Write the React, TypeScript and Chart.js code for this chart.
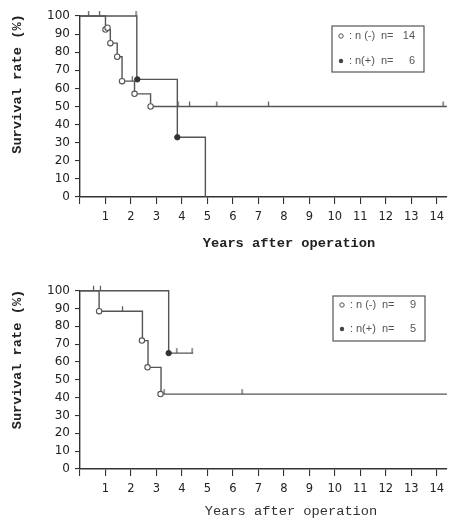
import React, { useEffect, useRef } from "react";
import { Chart, registerables } from "chart.js";
Chart.register(...registerables);

// ---------- Data: top panel ----------
const topNegTimes = [0, 1.0, 1.19, 1.46, 1.65, 2.14, 2.77, 14.4];
const topNegSurv = [100, 92.5, 85, 77.5, 64, 57, 50, 50];
const topNegEventTimes = [1.0, 1.08, 1.19, 1.46, 1.65, 2.14, 2.77];
const topNegEventSurv = [92.5, 93.5, 85, 77.5, 64, 57, 50];
const topNegCensorTimes = [2.05, 3.85, 4.3, 5.37, 7.4, 14.25];
const topNegCensorSurv = [64, 50, 50, 50, 50, 50];

const topPosTimes = [0, 2.23, 3.82, 4.92];
const topPosSurv = [100, 65, 33, 0];
const topPosEventTimes = [2.25, 3.82];
const topPosEventSurv = [65, 33];
const topPosCensorTimes = [0.34, 0.77, 2.2];
const topPosCensorSurv = [100, 100, 100];

// ---------- Data: bottom panel ----------
const botNegTimes = [0, 0.75, 2.45, 2.67, 3.18, 14.4];
const botNegSurv = [100, 88.5, 72, 57, 42, 42];
const botNegEventTimes = [0.75, 2.43, 2.65, 3.16];
const botNegEventSurv = [88.5, 72, 57, 42];
const botNegCensorTimes = [1.67, 3.3, 6.36];
const botNegCensorSurv = [88.5, 42, 42];

const botPosTimes = [0, 3.48, 4.44];
const botPosSurv = [100, 65, 65];
const botPosEventTimes = [3.48];
const botPosEventSurv = [65];
const botPosCensorTimes = [0.53, 0.8, 3.8, 4.4];
const botPosCensorSurv = [100, 100, 65, 65];

// ---------- Labels ----------
const xTickLabels = ["", "1", "2", "3", "4", "5", "6", "7", "8", "9", "10", "11", "12", "13", "14"];
const yTickLabels = ["0", "10", "20", "30", "40", "50", "60", "70", "80", "90", "100"];
const yTitle = "Survival rate (%)";
const xTitle = "Years after operation";
const topLegendLabels = ["n (-)", "n(+)"];
const topLegendCounts = ["14", "6"];
const botLegendLabels = ["n (-)", "n(+)"];
const botLegendCounts = ["9", "5"];

const LINE = "#555";
const AXIS = "#333";

function pts(xs: number[], ys: number[]) {
  return xs.map((x, i) => ({ x, y: ys[i] }));
}

function makeTick(): HTMLCanvasElement {
  const c = document.createElement("canvas");
  c.width = 3;
  c.height = 12;
  const g = c.getContext("2d")!;
  g.strokeStyle = LINE;
  g.lineWidth = 1.2;
  g.beginPath();
  g.moveTo(1.5, 1);
  g.lineTo(1.5, 6);
  g.stroke();
  return c;
}

const decorPlugin = {
  id: "decor",
  afterDraw(chart: any, _args: any, opts: any) {
    const ctx = chart.ctx as CanvasRenderingContext2D;
    ctx.save();
    ctx.fillStyle = "#222";
    ctx.font = 'bold 13.7px "Liberation Mono"';
    ctx.textAlign = "center";
    ctx.textBaseline = "middle";
    ctx.save();
    ctx.translate(opts.yTitleX, opts.yTitleY);
    ctx.rotate(-Math.PI / 2);
    ctx.fillText(yTitle, 0, 0);
    ctx.restore();
    ctx.font = opts.xTitleFont;
    ctx.fillStyle = opts.xTitleColor;
    ctx.fillText(xTitle, opts.xTitleX, opts.xTitleY);

    // legend box
    const L = opts.boxLeft, T = opts.boxTop, R = opts.boxRight, B = opts.boxBottom;
    ctx.strokeStyle = "#555";
    ctx.lineWidth = 1.2;
    ctx.strokeRect(L, T, R - L, B - T);
    ctx.font = '11px "Liberation Sans"';
    ctx.textBaseline = "middle";
    const rows = [opts.row1, opts.row2];
    for (let i = 0; i < 2; i++) {
      const y = rows[i];
      ctx.beginPath();
      ctx.arc(L + 9, y, 2.2, 0, Math.PI * 2);
      if (i === 0) {
        ctx.fillStyle = "#fff";
        ctx.fill();
        ctx.strokeStyle = "#555";
        ctx.lineWidth = 1;
        ctx.stroke();
      } else {
        ctx.fillStyle = "#444";
        ctx.fill();
      }
      ctx.fillStyle = "#555";
      ctx.textAlign = "left";
      ctx.fillText(":", L + 17, y);
      ctx.fillText(opts.labels[i], L + 23, y);
      ctx.fillText("n=", L + 49, y);
      ctx.textAlign = "right";
      ctx.fillText(opts.counts[i], R - 9, y);
    }
    ctx.restore();
  },
};

type Panel = {
  negT: number[]; negS: number[]; negET: number[]; negES: number[]; negCT: number[]; negCS: number[];
  posT: number[]; posS: number[]; posET: number[]; posES: number[]; posCT: number[]; posCS: number[];
  padTop: number; xHeight: number; decor: any;
};

function makeConfig(p: Panel, tick: HTMLCanvasElement): any {
  const common = { clip: false as any, showLine: false };
  return {
    type: "line",
    data: {
      datasets: [
        { ...common, data: pts(p.negCT, p.negCS), pointStyle: tick, pointRadius: 4, borderColor: LINE },
        { ...common, data: pts(p.posCT, p.posCS), pointStyle: tick, pointRadius: 4, borderColor: LINE },
        { ...common, data: pts(p.negET, p.negES), pointStyle: "circle", pointRadius: 2.7, pointBorderWidth: 1.1, pointBorderColor: LINE, pointBackgroundColor: "#fff" },
        { ...common, data: pts(p.posET, p.posES), pointStyle: "circle", pointRadius: 2.7, pointBorderWidth: 1, pointBorderColor: "#333", pointBackgroundColor: "#333" },
        { clip: false, data: pts(p.negT, p.negS), stepped: "before", borderColor: LINE, borderWidth: 1.4, pointRadius: 0, fill: false },
        { clip: false, data: pts(p.posT, p.posS), stepped: "before", borderColor: LINE, borderWidth: 1.4, pointRadius: 0, fill: false },
      ],
    },
    options: {
      animation: false,
      responsive: false,
      devicePixelRatio: 1,
      layout: { padding: { left: 0, right: 2, top: p.padTop, bottom: 0 } },
      plugins: { legend: { display: false }, tooltip: { enabled: false }, decor: p.decor },
      scales: {
        x: {
          type: "linear",
          min: 0,
          max: 14.4,
          afterFit: (s: any) => { s.height = p.xHeight; },
          ticks: {
            stepSize: 1,
            includeBounds: false,
            autoSkip: false,
            maxRotation: 0,
            padding: 6,
            color: "#222",
            font: { family: "DejaVu Sans", size: 11.5 },
            callback: (v: any) => xTickLabels[Math.round(v)] ?? "",
          },
          grid: { drawOnChartArea: false, drawTicks: true, tickLength: 7, color: AXIS, lineWidth: 1.1 },
          border: { color: AXIS, width: 1.4 },
        },
        y: {
          min: 0,
          max: 100,
          afterFit: (s: any) => { s.width = 80; },
          ticks: {
            stepSize: 10,
            padding: 5,
            color: "#222",
            font: { family: "DejaVu Sans", size: 12 },
            callback: (v: any) => yTickLabels[Math.round(v / 10)] ?? "",
          },
          grid: { drawOnChartArea: false, drawTicks: true, tickLength: 5, color: AXIS, lineWidth: 1.1 },
          border: { color: AXIS, width: 1.4 },
        },
      },
    },
    plugins: [decorPlugin],
  };
}

const topPanel: Panel = {
  negT: topNegTimes, negS: topNegSurv, negET: topNegEventTimes, negES: topNegEventSurv, negCT: topNegCensorTimes, negCS: topNegCensorSurv,
  posT: topPosTimes, posS: topPosSurv, posET: topPosEventTimes, posES: topPosEventSurv, posCT: topPosCensorTimes, posCS: topPosCensorSurv,
  padTop: 16, xHeight: 64,
  decor: { yTitleX: 17.5, yTitleY: 84, xTitleX: 289, xTitleY: 244, xTitleFont: 'bold 13.7px "Liberation Mono"', xTitleColor: "#222", boxLeft: 332, boxTop: 26, boxRight: 424, boxBottom: 72, row1: 36, row2: 61, labels: topLegendLabels, counts: topLegendCounts },
};

const botPanel: Panel = {
  negT: botNegTimes, negS: botNegSurv, negET: botNegEventTimes, negES: botNegEventSurv, negCT: botNegCensorTimes, negCS: botNegCensorSurv,
  posT: botPosTimes, posS: botPosSurv, posET: botPosEventTimes, posES: botPosEventSurv, posCT: botPosCensorTimes, posCS: botPosCensorSurv,
  padTop: 29.7, xHeight: 53,
  decor: { yTitleX: 18, yTitleY: 98.5, xTitleX: 291, xTitleY: 250, xTitleFont: '13.7px "Liberation Mono"', xTitleColor: "#333", boxLeft: 333, boxTop: 35, boxRight: 425, boxBottom: 80, row1: 44, row2: 68, labels: botLegendLabels, counts: botLegendCounts },
};

export default function App() {
  const topRef = useRef<HTMLCanvasElement>(null);
  const botRef = useRef<HTMLCanvasElement>(null);
  useEffect(() => {
    const tick = makeTick();
    const c1 = new Chart(topRef.current!, makeConfig(topPanel, tick));
    const c2 = new Chart(botRef.current!, makeConfig(botPanel, tick));
    return () => { c1.destroy(); c2.destroy(); };
  }, []);
  return (
    <div style={{ position: "absolute", left: 0, top: 0, width: 452, height: 522, background: "#fff" }}>
      <canvas ref={topRef} width={452} height={261} style={{ display: "block", width: 452, height: 261 }} />
      <canvas ref={botRef} width={452} height={261} style={{ display: "block", width: 452, height: 261 }} />
    </div>
  );
}
